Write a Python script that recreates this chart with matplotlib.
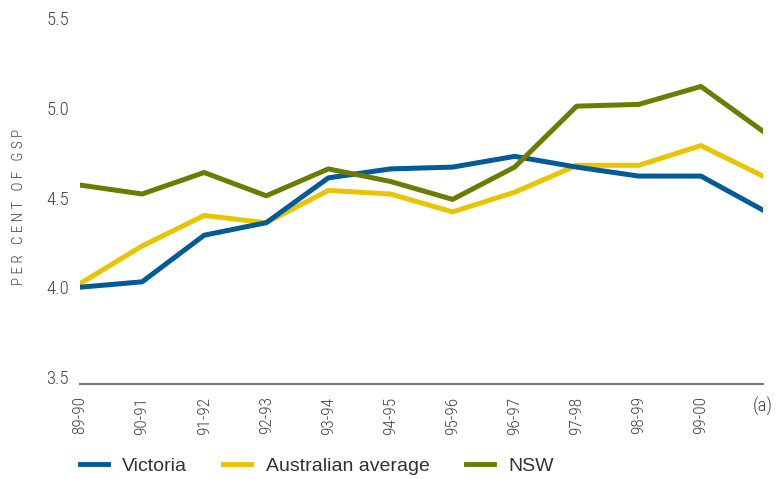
import matplotlib
matplotlib.use('Agg')
import matplotlib.pyplot as plt

years = ['89-90', '90-91', '91-92', '92-93', '93-94', '94-95', '95-96',
         '96-97', '97-98', '98-99', '99-00', '(a)']
victoria = [4.00, 4.03, 4.29, 4.36, 4.61, 4.66, 4.67, 4.73, 4.67, 4.62, 4.62, 4.43]
aus_avg = [4.02, 4.23, 4.40, 4.36, 4.54, 4.52, 4.42, 4.53, 4.68, 4.68, 4.79, 4.62]
nsw = [4.57, 4.52, 4.64, 4.51, 4.66, 4.59, 4.49, 4.67, 5.01, 5.02, 5.12, 4.87]
yticks = [3.5, 4.0, 4.5, 5.0, 5.5]

cond = ['Roboto Condensed', 'DejaVu Sans']
plt.rcParams['font.family'] = cond

grey = '#444444'
fig = plt.figure(figsize=(7.76, 4.79), dpi=100)
ax = fig.add_axes([80/776, 95/479, 683/776, 380/479])

x = list(range(len(years)))
lw = 3.6
ax.plot(x, victoria, color='#005b96', lw=lw, label='Victoria', zorder=3)
ax.plot(x, aus_avg, color='#e9c500', lw=lw, label='Australian average', zorder=2)
ax.plot(x, nsw, color='#6a7d00', lw=lw, label='NSW', zorder=4)

ax.set_xlim(0, 11)
ax.set_ylim(3.46, 5.58)
ax.set_yticks(yticks)
ax.set_yticklabels(['%.1f' % v for v in yticks], fontsize=13.5, fontweight='light')
ax.set_xticks(x)
ax.set_xticklabels(years, fontsize=12.5, fontweight='light')
for lab in ax.get_xticklabels()[:-1]:
    lab.set_rotation(90)
    lab.set_va('top')
last = ax.get_xticklabels()[-1]
last.set_va('top')
last.set_fontsize(13.5)

ax.tick_params(axis='both', length=0, colors=grey)
ax.tick_params(axis='y', pad=8)
ax.tick_params(axis='x', pad=9)
for s in ['top', 'right', 'left']:
    ax.spines[s].set_visible(False)
ax.spines['bottom'].set_color('#777777')
ax.spines['bottom'].set_linewidth(1.5)

fig.text(19/776, 1 - 207/479, 'P E R   C E N T   O F   G S P', rotation=90,
         ha='center', va='center', color=grey, fontsize=11, fontweight='light')

leg = fig.legend(loc='center left', bbox_to_anchor=(62/776, 1 - 466/479), ncol=3,
                 frameon=False, prop={'family': 'Liberation Sans', 'size': 14},
                 handlelength=1.45, handletextpad=0.75, columnspacing=1.85,
                 labelcolor='#333333')
for h in leg.get_lines():
    h.set_linewidth(3.5)

fig.savefig('out.png', dpi=100)
